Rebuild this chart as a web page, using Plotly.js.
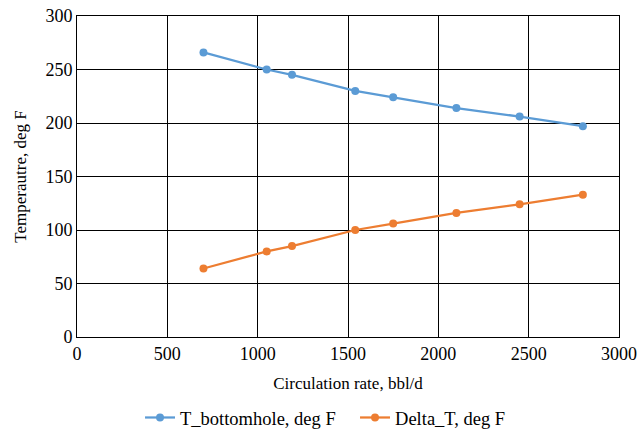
<!DOCTYPE html>
<html>
<head>
<meta charset="utf-8">
<script src="https://cdn.plot.ly/plotly-3.0.1.min.js"></script>
<style>html,body{margin:0;padding:0;background:#fff;}#chart{width:639px;height:430px;}</style>
</head>
<body>
<div id="chart"></div>
<script>
const circulationRate = [700, 1050, 1190, 1540, 1750, 2100, 2450, 2800];
const tBottomhole = [266, 250, 245, 230, 224, 214, 206, 197];
const deltaT = [64, 80, 85, 100, 106, 116, 124, 133];
const seriesNames = ["T_bottomhole, deg F", "Delta_T, deg F"];

function f(s) { return {family: "'Times New Roman', 'Liberation Serif', serif", size: s, color: "#000"}; }

const traces = [
  {x: circulationRate, y: tBottomhole, name: seriesNames[0], type: "scatter", mode: "lines+markers",
   line: {color: "#5B9BD5", width: 2.25}, marker: {color: "#5B9BD5", size: 8}},
  {x: circulationRate, y: deltaT, name: seriesNames[1], type: "scatter", mode: "lines+markers",
   line: {color: "#ED7D31", width: 2.25}, marker: {color: "#ED7D31", size: 8}}
];

const layout = {
  width: 639, height: 430,
  margin: {l: 77, r: 20, t: 16, b: 93},
  paper_bgcolor: "#fff", plot_bgcolor: "#fff",
  font: f(17),
  showlegend: true,
  legend: {orientation: "h", x: 0.5556, xanchor: "center", xref: "container", y: 0.028, yanchor: "middle", yref: "container",
           font: f(18.5), itemwidth: 30, entrywidth: 170, entrywidthmode: "pixels"},
  xaxis: {
    range: [0, 3000], dtick: 500, tick0: 0, automargin: false,
    showgrid: true, gridcolor: "#000", gridwidth: 1,
    showline: true, linecolor: "#000", linewidth: 1, mirror: true,
    zeroline: false, ticks: "", tickfont: f(18),
    title: {text: "Circulation rate, bbl/d", font: f(17), standoff: 14}
  },
  yaxis: {
    range: [0, 300], dtick: 50, tick0: 0, automargin: false,
    showgrid: true, gridcolor: "#000", gridwidth: 1,
    showline: true, linecolor: "#000", linewidth: 1, mirror: true,
    zeroline: false, ticks: "", tickfont: f(18),
    title: {text: "Temperautre, deg F", font: f(17), standoff: 14}
  }
};

Plotly.newPlot("chart", traces, layout, {displayModeBar: false, staticPlot: true});
</script>
</body>
</html>
